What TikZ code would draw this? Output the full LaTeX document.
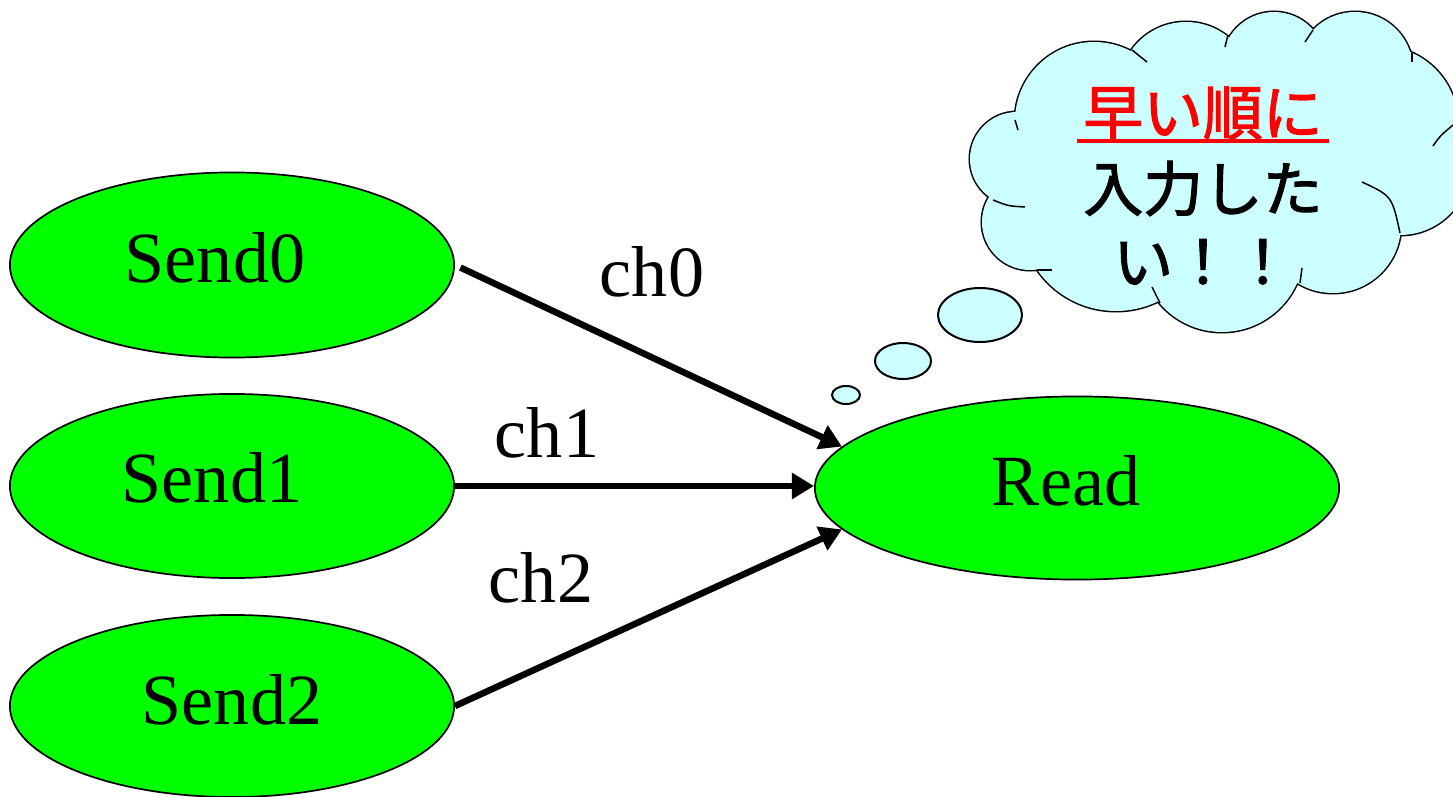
\documentclass[tikz,border=0pt]{standalone}
\usepackage{fontspec}
\setmainfont{Liberation Serif}
\newfontfamily\jpfont{Noto Sans CJK JP}[FakeBold=2]
\usetikzlibrary{shapes.geometric,arrows.meta}
\definecolor{nodegreen}{HTML}{00FF00}
\definecolor{cloudcyan}{HTML}{CCFFFF}
\begin{document}
\begin{tikzpicture}[x=0.01cm,y=-0.01cm,
  proc/.style={ellipse,draw=black,line width=0.017cm,fill=nodegreen,inner sep=0pt},
  proctext/.style={inner sep=0pt,anchor=base,font=\fontsize{20.5}{24}\selectfont},
  chan/.style={line width=0.065cm,-{Triangle[length=0.22cm,width=0.25cm]}},
  chlabel/.style={inner sep=0pt,anchor=base,font=\fontsize{20.5}{24}\selectfont},
  jptext/.style={font=\jpfont\fontsize{17}{20}\selectfont,inner sep=0pt,anchor=base},
  bubble/.style={draw=black,line width=0.02cm,fill=cloudcyan},
  innerarc/.style={line width=0.015cm},
]
\useasboundingbox (0,0) rectangle (1453,797);

% --- thought cloud (union of puffs) ---
\def\cloudpuffs{
  (1094,121) circle[radius=79]
  (1186,89) circle[radius=67]
  (1274,64) circle[radius=52]
  (1355,70) circle[radius=58]
  (1380,124) circle[radius=78]
  (1400,165) circle[radius=70]
  (1333,225) circle[radius=68]
  (1222,250) circle[radius=82]
  (1116,215) circle[radius=96]
  (1030,222) circle[radius=48]
  (1017,159) circle[radius=47]}
\draw[line width=0.03cm] \cloudpuffs;
\fill[cloudcyan] \cloudpuffs;
\fill[cloudcyan] (1094,121) -- (1186,89) -- (1274,64) -- (1355,70) -- (1380,124)
  -- (1400,165) -- (1333,225) -- (1222,250) -- (1116,215) -- (1030,222) -- (1017,159) -- cycle;
% inner strokes of the cloud
\draw[innerarc] (1132,50) -- (1147,62);
\draw[innerarc] (1225,47) -- (1228,35);
\draw[innerarc] (1305,42) -- (1313,30);
\draw[innerarc] (1412,53) -- (1412,62);
\draw[innerarc] (1433,146) .. controls (1440,136) .. (1453,125);
\draw[innerarc] (1362,182) .. controls (1392,196) .. (1400,233);
\draw[innerarc] (1302,268) -- (1300,283);
\draw[innerarc] (1152,287) -- (1160,303);
\draw[innerarc] (1037,270) -- (1052,270);
\draw[innerarc] (993,200) .. controls (1008,206) .. (1025,207);
\draw[innerarc] (1015,120) -- (1018,130);

% thought bubbles
\draw[bubble] (980,315) ellipse[x radius=42,y radius=27];
\draw[bubble] (903,361) ellipse[x radius=28,y radius=18];
\draw[bubble] (846,395) ellipse[x radius=14,y radius=9];

% cloud text
\node[jptext,text=red] (l1) at (1203,135) {早い順に};
\node[jptext] (l2) at (1203,211) {入力した};
\node[jptext] (l3) at (1203,284) {い！！};
\draw[red,line width=0.04cm] ([xshift=-0.06cm,yshift=-0.06cm]l1.base west) -- ([xshift=0.06cm,yshift=-0.06cm]l1.base east);

% --- processes ---
\node[proc,minimum width=4.44cm,minimum height=1.85cm] (s0) at (232,265) {};
\node[proc,minimum width=4.44cm,minimum height=1.84cm] (s1) at (232,486) {};
\node[proc,minimum width=4.44cm,minimum height=1.82cm] (s2) at (232,706) {};
\node[proc,minimum width=5.24cm,minimum height=1.83cm] (r) at (1077,488) {};
\node[proctext] (t0) at (215,282) {Send0};
\node[proctext] (t1) at (212,502) {Send1};
\node[proctext] (t2) at (232,725) {Send2};
\node[proctext] (tr) at (1066,505) {Read};

% --- channels ---
\draw[chan,shorten <=0.06cm] (s0.east) -- (r.170);
\draw[chan] (s1.east) -- (s1.east -| r.west);
\draw[chan] (s2.east) -- (r.190);

\node[chlabel] (c0) at (652,297) {ch0};
\node[chlabel] (c1) at (547,458) {ch1};
\node[chlabel] (c2) at (541,602) {ch2};
\end{tikzpicture}
\end{document}
